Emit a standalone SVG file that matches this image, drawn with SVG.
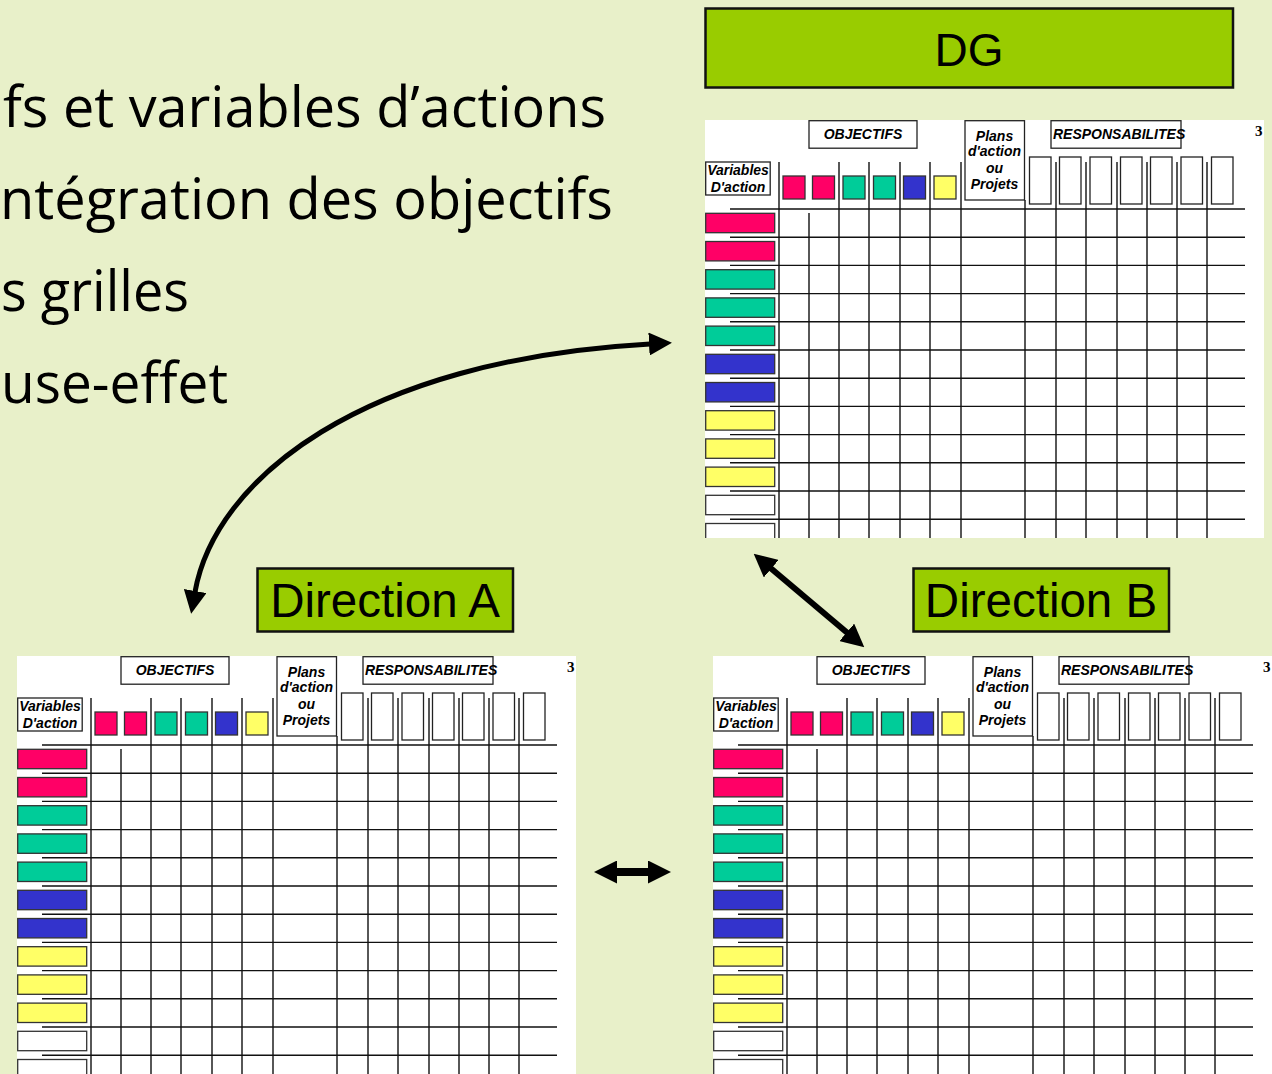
<svg xmlns="http://www.w3.org/2000/svg" xmlns:xlink="http://www.w3.org/1999/xlink" width="1272" height="1074" viewBox="0 0 1272 1074">
<style>
.hdr{font-family:"Liberation Sans",Arial,sans-serif;font-weight:bold;font-style:italic;font-size:14px;fill:#000}
.mid{text-anchor:middle}
.big{font-family:"Open Sans","Noto Sans",sans-serif;font-size:57px;fill:#000}
.lbl{font-family:"Liberation Sans",Arial,sans-serif;font-size:46px;fill:#000;text-anchor:middle}
.dir{font-size:47.5px}
.num{font-family:"Liberation Serif",serif;font-weight:bold;font-size:15px;fill:#000}
.box{fill:#fff;stroke:#222;stroke-width:1.3}
.gl{stroke:#111;stroke-width:1.4;fill:none}
.bar{stroke:#333;stroke-width:1.3}
.node{fill:#99CC00;stroke:#111;stroke-width:2.5}
.conn{stroke:#000;fill:none}
</style>
<defs>
<marker id="ah" viewBox="0 0 23 23" refX="1" refY="11.5" markerWidth="23" markerHeight="23" markerUnits="userSpaceOnUse" orient="auto-start-reverse">
<path d="M0,0 L23,11.5 L0,23 z" fill="#000"/>
</marker>
<clipPath id="gclip"><rect x="0" y="0" width="559" height="418"/></clipPath>
<g id="gridBody" clip-path="url(#gclip)">
<rect x="0" y="0" width="559" height="418" fill="#fff"/>
<rect class="box" x="104" y="0.7" width="108" height="27.5"/>
<rect class="box" x="260" y="0.7" width="59.5" height="79.3"/>
<rect class="box" x="346" y="0.7" width="130" height="27.5"/>
<rect class="box" x="0.7" y="42" width="64.5" height="33"/>
<rect class="bar" x="78" y="56" width="22" height="23" fill="#FF0066"/>
<rect class="bar" x="107.5" y="56" width="22" height="23" fill="#FF0066"/>
<rect class="bar" x="138" y="56" width="22" height="23" fill="#00CC99"/>
<rect class="bar" x="168.5" y="56" width="22" height="23" fill="#00CC99"/>
<rect class="bar" x="198.5" y="56" width="22" height="23" fill="#3333CC"/>
<rect class="bar" x="229" y="56" width="22" height="23" fill="#FFFF66"/>
<rect class="box" x="324.5" y="37" width="21.5" height="47"/>
<rect class="box" x="354.5" y="37" width="21.5" height="47"/>
<rect class="box" x="385" y="37" width="21.5" height="47"/>
<rect class="box" x="415.5" y="37" width="21.5" height="47"/>
<rect class="box" x="445.5" y="37" width="21.5" height="47"/>
<rect class="box" x="476" y="37" width="21.5" height="47"/>
<rect class="box" x="506.5" y="37" width="21.5" height="47"/>
<path class="gl" d="M74,42V418 M104,93V418 M134,42V418 M164,42V418 M195,42V418 M225,42V418 M256,42V418 M320,80V418 M351,42V418 M381,42V418 M412,42V418 M442,42V418 M472,42V418 M502,42V418"/>
<path class="gl" d="M25,89H540 M25,117.2H540 M25,145.4H540 M25,173.6H540 M25,201.8H540 M25,230H540 M25,258.2H540 M25,286.4H540 M25,314.6H540 M25,342.8H540 M25,371H540 M25,399.2H540"/>
<rect class="bar" x="0.7" y="93.3" width="69" height="19.4" fill="#FF0066"/>
<rect class="bar" x="0.7" y="121.5" width="69" height="19.4" fill="#FF0066"/>
<rect class="bar" x="0.7" y="149.7" width="69" height="19.4" fill="#00CC99"/>
<rect class="bar" x="0.7" y="177.9" width="69" height="19.4" fill="#00CC99"/>
<rect class="bar" x="0.7" y="206.1" width="69" height="19.4" fill="#00CC99"/>
<rect class="bar" x="0.7" y="234.3" width="69" height="19.4" fill="#3333CC"/>
<rect class="bar" x="0.7" y="262.5" width="69" height="19.4" fill="#3333CC"/>
<rect class="bar" x="0.7" y="290.7" width="69" height="19.4" fill="#FFFF66"/>
<rect class="bar" x="0.7" y="318.9" width="69" height="19.4" fill="#FFFF66"/>
<rect class="bar" x="0.7" y="347.1" width="69" height="19.4" fill="#FFFF66"/>
<rect class="bar" x="0.7" y="375.3" width="69" height="19.4" fill="#FFFFFF"/>
<rect class="bar" x="0.7" y="403.5" width="69" height="19.4" fill="#FFFFFF"/>
</g>
</defs>

<rect x="0" y="0" width="1272" height="1074" fill="#E8F0C9"/>

<g id="bullets">
<text class="big" x="3" y="127" textLength="603" lengthAdjust="spacingAndGlyphs">fs et variables d’actions</text>
<text class="big" x="0" y="219" textLength="613" lengthAdjust="spacingAndGlyphs">ntégration des objectifs</text>
<text class="big" x="1" y="311" textLength="188" lengthAdjust="spacingAndGlyphs">s grilles</text>
<text class="big" x="1" y="403" textLength="227" lengthAdjust="spacingAndGlyphs">use-effet</text>
</g>

<g id="grid-dg" transform="translate(705,120)">
<use href="#gridBody" xlink:href="#gridBody"/>
<text class="hdr mid" x="158" y="19">OBJECTIFS</text>
<text class="hdr" x="348" y="19" font-size="13.4">RESPONSABILITES</text>
<text class="hdr mid" x="289.5" y="20.5">Plans</text>
<text class="hdr mid" x="289.5" y="36">d'action</text>
<text class="hdr mid" x="289.5" y="52.5">ou</text>
<text class="hdr mid" x="289.5" y="68.5">Projets</text>
<text class="hdr mid" x="33" y="55">Variables</text>
<text class="hdr mid" x="33" y="72">D'action</text>
<text class="num" x="550" y="16">3</text>
</g>

<g id="grid-a" transform="translate(17,656)">
<use href="#gridBody" xlink:href="#gridBody"/>
<text class="hdr mid" x="158" y="19">OBJECTIFS</text>
<text class="hdr" x="348" y="19" font-size="13.4">RESPONSABILITES</text>
<text class="hdr mid" x="289.5" y="20.5">Plans</text>
<text class="hdr mid" x="289.5" y="36">d'action</text>
<text class="hdr mid" x="289.5" y="52.5">ou</text>
<text class="hdr mid" x="289.5" y="68.5">Projets</text>
<text class="hdr mid" x="33" y="55">Variables</text>
<text class="hdr mid" x="33" y="72">D'action</text>
<text class="num" x="550" y="16">3</text>
</g>

<g id="grid-b" transform="translate(713,656)">
<use href="#gridBody" xlink:href="#gridBody"/>
<text class="hdr mid" x="158" y="19">OBJECTIFS</text>
<text class="hdr" x="348" y="19" font-size="13.4">RESPONSABILITES</text>
<text class="hdr mid" x="289.5" y="20.5">Plans</text>
<text class="hdr mid" x="289.5" y="36">d'action</text>
<text class="hdr mid" x="289.5" y="52.5">ou</text>
<text class="hdr mid" x="289.5" y="68.5">Projets</text>
<text class="hdr mid" x="33" y="55">Variables</text>
<text class="hdr mid" x="33" y="72">D'action</text>
<text class="num" x="550" y="16">3</text>
</g>

<g id="node-dg">
<rect class="node" x="705.5" y="8.5" width="527.5" height="79"/>
<text class="lbl" x="969" y="66">DG</text>
</g>
<g id="node-direction-a">
<rect class="node" x="257.5" y="568.5" width="255.5" height="63"/>
<text class="lbl dir" x="385" y="617">Direction A</text>
</g>
<g id="node-direction-b">
<rect class="node" x="913.5" y="568.5" width="255.5" height="63"/>
<text class="lbl dir" x="1041" y="617">Direction B</text>
</g>

<g id="connectors" class="conn">
<path d="M195,592 C215,480 360,360 650,344" stroke-width="5" marker-start="url(#ah)" marker-end="url(#ah)"/>
<line x1="770.5" y1="568" x2="847.5" y2="633" stroke-width="6" marker-start="url(#ah)" marker-end="url(#ah)"/>
<line x1="616" y1="872" x2="649" y2="872" stroke-width="8" marker-start="url(#ah)" marker-end="url(#ah)"/>
</g>
</svg>
